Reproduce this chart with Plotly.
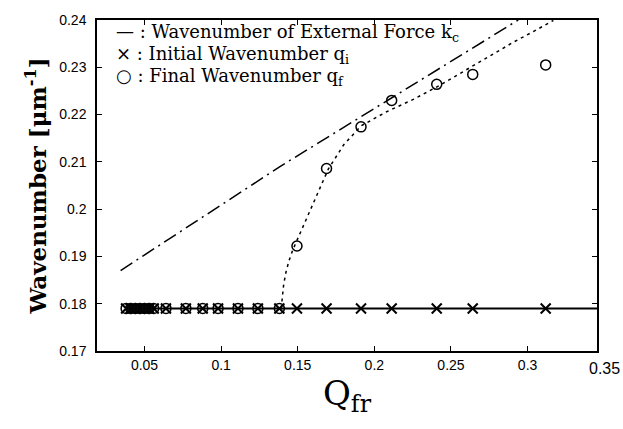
import plotly.graph_objects as go

# ---- data ----
# points where initial and final wavenumber coincide (q_i = q_f)
q_low = [0.038, 0.041, 0.044, 0.047, 0.050, 0.053, 0.056, 0.064, 0.077, 0.088, 0.098, 0.111, 0.124, 0.138]
# points above the threshold
q_high = [0.1495, 0.1688, 0.1913, 0.2113, 0.2407, 0.2642, 0.3118]
qf_high = [0.1922, 0.2086, 0.2174, 0.2230, 0.2264, 0.2285, 0.2305]
q_base = 0.179  # initial wavenumber

# external force wavenumber (dash-dot)
kc_x = [0.0344, 0.1384, 0.2939]
kc_y = [0.1870, 0.2090, 0.2400]

# dotted curve
fit_x = [0.1392, 0.1398, 0.1408, 0.1422, 0.1442, 0.1468, 0.1500, 0.1545, 0.1601, 0.1656,
         0.1700, 0.1800, 0.1913, 0.2080, 0.2254, 0.2428, 0.2602, 0.2760, 0.2907, 0.3040, 0.3168]
fit_y = [0.1790, 0.1815, 0.1840, 0.1865, 0.1890, 0.1914, 0.1938, 0.1972, 0.2014, 0.2055,
         0.2085, 0.2136, 0.2176, 0.2206, 0.2232, 0.2262, 0.2295, 0.2324, 0.2353, 0.2376, 0.2399]

x_ticks = [0.05, 0.1, 0.15, 0.2, 0.25, 0.3]
x_last_label = 0.35
y_ticks = [0.17, 0.18, 0.19, 0.2, 0.21, 0.22, 0.23, 0.24]
x_range = [0.019, 0.3453]

x_all = q_low + q_high
qi_all = [q_base] * len(x_all)
qf_all = [q_base] * len(q_low) + qf_high

fig = go.Figure()

# horizontal solid line through initial wavenumbers
fig.add_trace(go.Scatter(x=[x_all[0], x_range[1]], y=[q_base, q_base], mode="lines",
                         line=dict(color="black", width=2), hoverinfo="skip"))
# external force
fig.add_trace(go.Scatter(x=kc_x, y=kc_y, mode="lines",
                         line=dict(color="black", width=1.5, dash="14px,5px,2px,5px")))
# dotted curve
fig.add_trace(go.Scatter(x=fit_x, y=fit_y, mode="lines",
                         line=dict(color="black", width=1.5, dash="3px,4px")))
# initial wavenumber markers
fig.add_trace(go.Scatter(x=x_all, y=qi_all, mode="markers",
                         marker=dict(symbol="x-thin", size=10, line=dict(color="black", width=2))))
# final wavenumber markers
fig.add_trace(go.Scatter(x=x_all, y=qf_all, mode="markers",
                         marker=dict(symbol="circle-open", size=10, color="black",
                                     line=dict(color="black", width=1.5))))

tickfont = dict(family="Liberation Sans, Arial", size=14, color="black")
fig.update_xaxes(range=x_range, tickvals=x_ticks, ticktext=[f"{v:g}" for v in x_ticks],
                 ticks="inside", ticklen=5, tickwidth=1, tickcolor="black",
                 showline=True, linecolor="black", linewidth=1.5, mirror="ticks",
                 showgrid=False, zeroline=False, tickfont=tickfont,
                 title=dict(text="Q<sub>fr</sub>", font=dict(family="DejaVu Serif", size=34, color="black"),
                            standoff=10))
fig.update_yaxes(range=[0.17, 0.24], tickvals=y_ticks, ticktext=[f"{v:g}" for v in y_ticks],
                 ticks="inside", ticklen=5, tickwidth=1, tickcolor="black",
                 showline=True, linecolor="black", linewidth=1.5, mirror="ticks",
                 showgrid=False, zeroline=False, tickfont=tickfont, ticklabelstandoff=6,
                 title=dict(text="<b>Wavenumber [μm<sup>-1</sup>]</b>",
                            font=dict(family="DejaVu Serif", size=23, color="black"), standoff=6))

legend_font = dict(family="DejaVu Serif", size=18, color="black")
legend_lines = ["— : Wavenumber of External Force k<sub>c</sub>",
                "× : Initial Wavenumber q<sub>i</sub>",
                "○ : Final Wavenumber q<sub>f</sub>"]
for txt, yy in zip(legend_lines, [0.962, 0.893, 0.828]):
    fig.add_annotation(x=0.034, y=yy, xref="paper", yref="paper", text=txt, showarrow=False,
                       xanchor="left", yanchor="middle", font=legend_font)

# last tick label sits just past the right border
x_last_paper = (x_last_label - x_range[0]) / (x_range[1] - x_range[0])
fig.add_annotation(x=x_last_paper, y=0, xref="paper", yref="paper", yshift=-17,
                   text=f"{x_last_label:g}", showarrow=False,
                   xanchor="center", yanchor="middle",
                   font=dict(family="Liberation Sans, Arial", size=16, color="black"))

fig.update_layout(width=623, height=429, margin=dict(l=97, r=26, t=14, b=78),
                  plot_bgcolor="white", paper_bgcolor="white", showlegend=False)

fig.write_html("out.html")
